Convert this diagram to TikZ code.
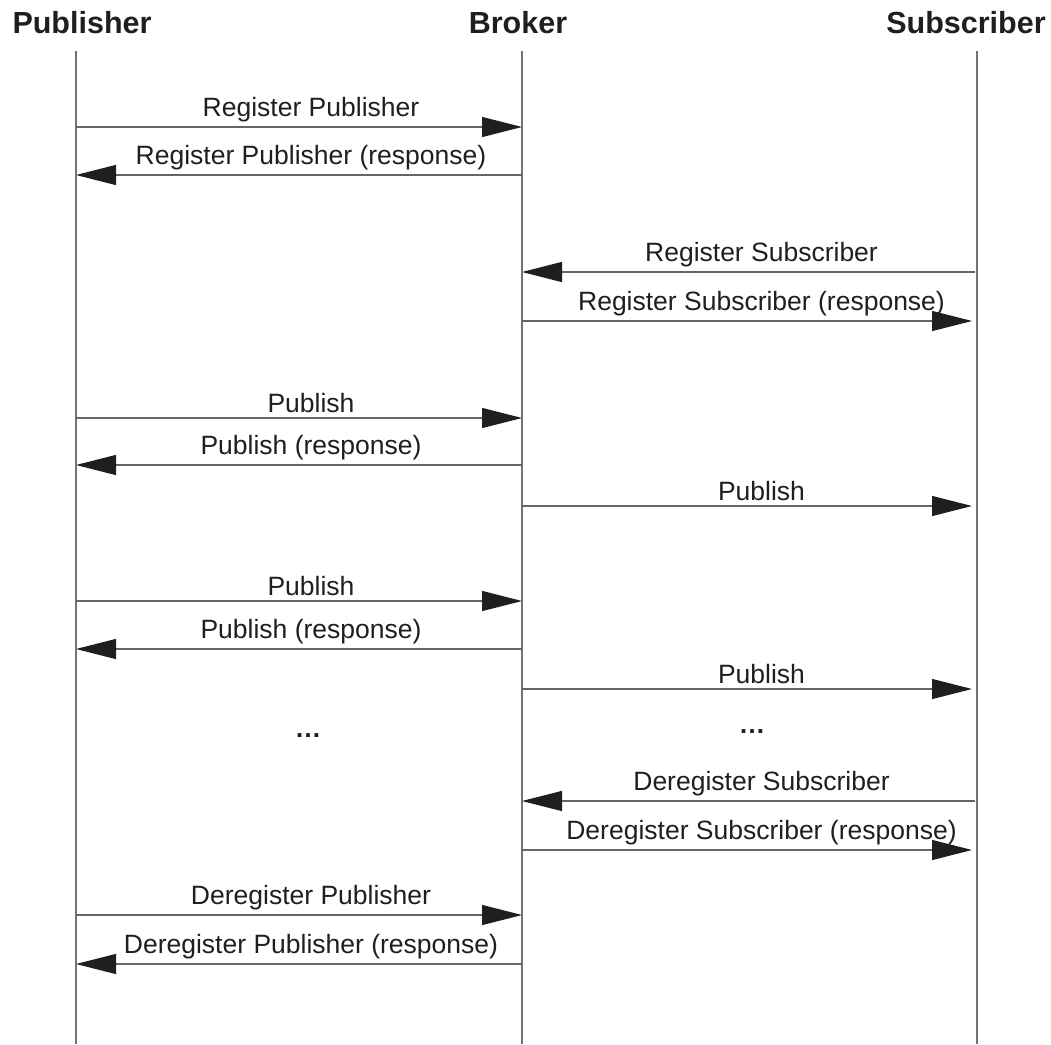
\documentclass[tikz,border=0pt]{standalone}
\usepackage{fontspec}
\setmainfont{Liberation Sans}
\usetikzlibrary{arrows.meta}

\begin{document}
\begin{tikzpicture}[x=1pt,y=-1pt]

\tikzstyle{header} = [anchor=base, inner sep=0, text=black!88, font=\fontsize{30.5}{34}\selectfont\bfseries]
\tikzstyle{lifeline} = [draw=black!55, line width=1.2pt]
\tikzstyle{msg} = [draw=black!60, line width=1.2pt, -{Triangle[length=40pt,width=20pt,color=black!88]}]
\tikzstyle{msglabel} = [above=4.5pt, inner sep=0, xshift=12pt, text=black!88, font=\fontsize{26.5}{30}\selectfont]
\tikzstyle{dots} = [text=black!88, font=\fontsize{26.5}{30}\selectfont\bfseries]

\useasboundingbox (0,0) rectangle (1051,1044);

%Headers

\path (82,33) node[header] (pub) {Publisher};
\path (518,33) node[header] (brk) {Broker};
\path (966,33) node[header] (sub) {Subscriber};

%Lifelines

\coordinate (pub_top) at (76,51);
\coordinate (pub_bot) at (76,1044);
\coordinate (brk_top) at (522,51);
\coordinate (brk_bot) at (522,1044);
\coordinate (sub_top) at (977,51);
\coordinate (sub_bot) at (977,1044);

\draw[lifeline] (pub_top) -- (pub_bot);
\draw[lifeline] (brk_top) -- (brk_bot);
\draw[lifeline] (sub_top) -- (sub_bot);

%Publisher and broker

\foreach \y/\dir/\txt in {127/1/Register Publisher, 175/0/Register Publisher (response),
  418/1/Publish, 465/0/Publish (response),
  601/1/Publish, 649/0/Publish (response),
  915/1/Deregister Publisher, 964/0/Deregister Publisher (response)}{
  \ifnum\dir=1
    \draw[msg] (pub_top |- 0,\y) -- node[msglabel] {\txt} (brk_top |- 0,\y);
  \else
    \draw[msg] (brk_top |- 0,\y) -- node[msglabel] {\txt} (pub_top |- 0,\y);
  \fi
}

%Broker and subscriber

\foreach \y/\dir/\txt in {272/0/Register Subscriber, 321/1/Register Subscriber (response),
  506/1/Publish, 689/1/Publish,
  801/0/Deregister Subscriber, 850/1/Deregister Subscriber (response)}{
  \ifnum\dir=1
    \draw[msg, shorten >=5pt] (brk_top |- 0,\y) -- node[msglabel] {\txt} (sub_top |- 0,\y);
  \else
    \draw[msg, shorten <=2pt] (sub_top |- 0,\y) -- node[msglabel] {\txt} (brk_top |- 0,\y);
  \fi
}

%Dots

\path (308,736) node[dots] (dots_l) {\ldots};
\path (752,732) node[dots] (dots_r) {\ldots};

\end{tikzpicture}
\end{document}
